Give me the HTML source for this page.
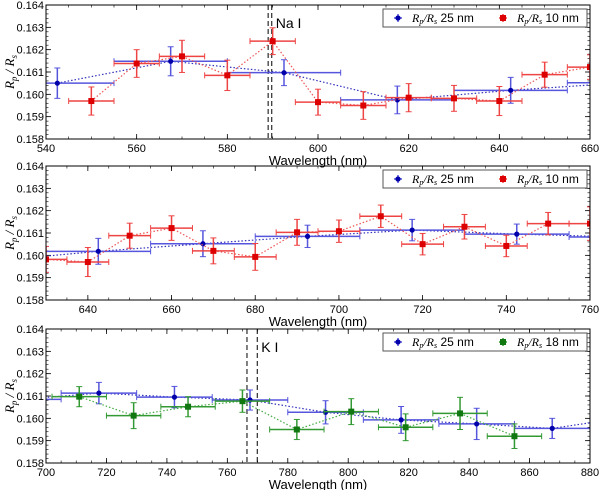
<!DOCTYPE html>
<html><head><meta charset="utf-8"><style>
html,body{margin:0;padding:0;background:#fff;}
svg{display:block;font-family:"Liberation Sans",sans-serif;}
</style></head><body>
<svg id="fig" width="600" height="490" viewBox="0 0 600 490" xmlns="http://www.w3.org/2000/svg"></svg>
<script>
// Panel 1 data (Na I region)
const p1BlueX = [542.5, 567.5, 592.5, 617.5, 642.5, 667.5];
const p1BlueY = [0.16050, 0.16148, 0.16097, 0.15975, 0.16018, 0.16052];
const p1BlueE = [0.00068, 0.00065, 0.00058, 0.00062, 0.00058, 0.00058];
const p1RedX = [550, 560, 570, 580, 590, 600, 610, 620, 630, 640, 650, 660];
const p1RedY = [0.15970, 0.16138, 0.16170, 0.16085, 0.16238, 0.15965, 0.15950, 0.15985, 0.15982, 0.15970, 0.16088, 0.16122];
const p1RedE = [0.00063, 0.00062, 0.00072, 0.00068, 0.00060, 0.00058, 0.00062, 0.00063, 0.00058, 0.00065, 0.00056, 0.00055];
// Panel 2 data
const p2BlueX = [617.5, 642.5, 667.5, 692.5, 717.5, 742.5, 767.5];
const p2BlueY = [0.15975, 0.16018, 0.16052, 0.16085, 0.16113, 0.16095, 0.16082];
const p2BlueE = [0.00062, 0.00058, 0.00058, 0.00050, 0.00048, 0.00045, 0.00045];
const p2RedX = [630, 640, 650, 660, 670, 680, 690, 700, 710, 720, 730, 740, 750, 760];
const p2RedY = [0.15982, 0.15970, 0.16088, 0.16122, 0.16020, 0.15993, 0.16103, 0.16108, 0.16175, 0.16050, 0.16128, 0.16042, 0.16142, 0.16142];
const p2RedE = [0.00058, 0.00065, 0.00056, 0.00055, 0.00058, 0.00060, 0.00058, 0.00050, 0.00050, 0.00048, 0.00055, 0.00048, 0.00050, 0.00075];
// Panel 3 data (K I region)
const p3BlueX = [692.5, 717.5, 742.5, 767.5, 792.5, 817.5, 842.5, 867.5, 892.5];
const p3BlueY = [0.16085, 0.16113, 0.16095, 0.16082, 0.16027, 0.15993, 0.15975, 0.15955, 0.16005];
const p3BlueE = [0.00050, 0.00048, 0.00048, 0.00045, 0.00052, 0.00060, 0.00070, 0.00045, 0.00050];
const p3GreenX = [711, 729, 747, 765, 783, 801, 819, 837, 855];
const p3GreenY = [0.16097, 0.16012, 0.16052, 0.16077, 0.15950, 0.16030, 0.15960, 0.16022, 0.15920];
const p3GreenE = [0.00045, 0.00058, 0.00045, 0.00050, 0.00045, 0.00058, 0.00060, 0.00072, 0.00055];
const yTicks = [0.158, 0.159, 0.160, 0.161, 0.162, 0.163, 0.164];
const p1XTicks = [540, 560, 580, 600, 620, 640, 660];
const p2XTicks = [640, 660, 680, 700, 720, 740, 760];
const p3XTicks = [700, 720, 740, 760, 780, 800, 820, 840, 860, 880];

const NS = "http://www.w3.org/2000/svg";
const fig = document.getElementById('fig');
function mk(tag, attrs, parent){const e=document.createElementNS(NS,tag);for(const k in attrs)e.setAttribute(k,attrs[k]);(parent||fig).appendChild(e);return e;}

const L=46,R=590,H=134;
const panels=[
 {top:5,x0:540,x1:660,xt:p1XTicks,minor:5,lines:[589.0,589.8],lineLabel:"Na I",
  series:[{x:p1BlueX,y:p1BlueY,e:p1BlueE,hw:12.5,c:"#0000aa",ec:"#5555dd",lc:"#3333bb",m:"circle",label:"25 nm",n:"blue-25nm"},
          {x:p1RedX,y:p1RedY,e:p1RedE,hw:5,c:"#dd0000",ec:"#ee4444",lc:"#ee5555",m:"square",label:"10 nm",n:"red-10nm"}]},
 {top:166,x0:630,x1:760,xt:p2XTicks,minor:5,lines:[],
  series:[{x:p2BlueX,y:p2BlueY,e:p2BlueE,hw:12.5,c:"#0000aa",ec:"#5555dd",lc:"#3333bb",m:"circle",label:"25 nm",n:"blue-25nm"},
          {x:p2RedX,y:p2RedY,e:p2RedE,hw:5,c:"#dd0000",ec:"#ee4444",lc:"#ee5555",m:"square",label:"10 nm",n:"red-10nm"}]},
 {top:329,x0:700,x1:880,xt:p3XTicks,minor:5,lines:[766.5,769.9],lineLabel:"K I",
  series:[{x:p3BlueX,y:p3BlueY,e:p3BlueE,hw:12.5,c:"#0000aa",ec:"#5555dd",lc:"#3333bb",m:"circle",label:"25 nm",n:"blue-25nm"},
          {x:p3GreenX,y:p3GreenY,e:p3GreenE,hw:9,c:"#117711",ec:"#339933",lc:"#44aa44",m:"square",label:"18 nm",n:"green-18nm"}]}
];

panels.forEach((p,pi)=>{
 const sx=v=>L+(v-p.x0)/(p.x1-p.x0)*(R-L);
 const sy=v=>p.top+H-(v-0.158)/0.006*H;
 const g=mk('g',{});
 
 
 const cid='clip'+pi;
 const cp=mk('clipPath',{id:cid},g);mk('rect',{x:L,y:p.top,width:R-L,height:H},cp);
 // ticks
 yTicks.forEach(t=>{
  const y=sy(t);
  mk('line',{x1:L,x2:L+5,y1:y,y2:y,stroke:'#000','stroke-width':0.8},g);
  mk('line',{x1:R,x2:R-5,y1:y,y2:y,stroke:'#000','stroke-width':0.8},g);
  const tx=mk('text',{x:L-2,y:y+4,'font-size':11,'text-anchor':'end'},g);tx.textContent=t.toFixed(3);
  
  
 });
 for(let v=0.158;v<0.164;v+=0.0002){const y=sy(v);mk('line',{x1:L,x2:L+2.5,y1:y,y2:y,stroke:'#000','stroke-width':0.6},g);mk('line',{x1:R,x2:R-2.5,y1:y,y2:y,stroke:'#000','stroke-width':0.6},g);}
 for(let v=Math.ceil(p.x0/p.minor)*p.minor;v<=p.x1;v+=p.minor){const x=sx(v);mk('line',{x1:x,x2:x,y1:p.top+H,y2:p.top+H-2.5,stroke:'#000','stroke-width':0.6},g);mk('line',{x1:x,x2:x,y1:p.top,y2:p.top+2.5,stroke:'#000','stroke-width':0.6},g);}
 p.xt.forEach(t=>{const x=sx(t);
  mk('line',{x1:x,x2:x,y1:p.top+H,y2:p.top+H-5,stroke:'#000','stroke-width':0.8},g);
  mk('line',{x1:x,x2:x,y1:p.top,y2:p.top+5,stroke:'#000','stroke-width':0.8},g);
  const tx=mk('text',{x:x,y:p.top+H+13,'font-size':11,'text-anchor':'middle'},g);tx.textContent=t;
  
  
 });
 const xl=mk('text',{x:(L+R)/2,y:p.top+H+26,'font-size':13,'text-anchor':'middle'},g);xl.textContent='Wavelength (nm)';
 
 
 const yl=mk('text',{x:0,y:0,'font-size':13,'font-family':'Liberation Serif,serif','font-style':'italic','text-anchor':'middle',transform:`translate(14,${p.top+H/2}) rotate(-90)`},g);
 yl.innerHTML='R<tspan font-size="9" dy="3">p</tspan><tspan dy="-3"> / R</tspan><tspan font-size="9" dy="3">s</tspan>';
 
 
 // vertical lines
 p.lines.forEach(v=>{const l=mk('line',{x1:sx(v),x2:sx(v),y1:p.top,y2:p.top+H,stroke:'#000','stroke-width':1,'stroke-dasharray':'5,3'},g);
  
  });
 if(p.lineLabel){const t=mk('text',{x:sx(p.lines[1])+4,y:p.top+23,'font-size':14},g);t.textContent=p.lineLabel;
  
  }
 const pg=mk('g',{'clip-path':`url(#${cid})`},g);
 p.series.forEach(s=>{
  const sg=mk('g',{},pg);
  
  
  mk('polyline',{points:s.x.map((x,i)=>sx(x)+','+sy(s.y[i])).join(' '),fill:'none',stroke:s.lc,'stroke-width':1.2,'stroke-dasharray':'1.5,2'},sg);
  s.x.forEach((x,i)=>{
   const cx=sx(x),cy=sy(s.y[i]),y1=sy(s.y[i]+s.e[i]),y2=sy(s.y[i]-s.e[i]),xa=sx(x-s.hw),xb=sx(x+s.hw);
   mk('line',{x1:xa,x2:xb,y1:cy,y2:cy,stroke:s.ec,'stroke-width':1.5},sg);
   mk('line',{x1:cx,x2:cx,y1:y1,y2:y2,stroke:s.ec,'stroke-width':1.5},sg);
   [y1,y2].forEach(yy=>mk('line',{x1:cx-3,x2:cx+3,y1:yy,y2:yy,stroke:s.ec,'stroke-width':1},sg));
   [xa,xb].forEach(xx=>mk('line',{x1:xx,x2:xx,y1:cy-3,y2:cy+3,stroke:s.ec,'stroke-width':1},sg));
   let m;
   if(s.m==='circle') m=mk('circle',{cx:cx,cy:cy,r:2.6,fill:s.c},sg);
   else m=mk('rect',{x:cx-3,y:cy-3,width:6,height:6,fill:s.c},sg);
   
   
  });
 });
 mk('rect',{x:L,y:p.top,width:R-L,height:H,fill:'none',stroke:'#000','stroke-width':1},g);
 // legend
 const lg=mk('g',{},g);
 
 
 mk('rect',{x:383,y:p.top+4,width:204,height:18,fill:'#fff',stroke:'#555','stroke-width':1},lg);
 p.series.forEach((s,k)=>{
  const bx=k===0?398:503, by=p.top+13;
  mk('line',{x1:bx-4,x2:bx+4,y1:by,y2:by,stroke:s.ec,'stroke-width':1.5},lg);
  mk('line',{x1:bx,x2:bx,y1:by-4,y2:by+4,stroke:s.ec,'stroke-width':1.5},lg);
  if(s.m==='circle') mk('circle',{cx:bx,cy:by,r:2.6,fill:s.c},lg); else mk('rect',{x:bx-3,y:by-3,width:6,height:6,fill:s.c},lg);
  const t=mk('text',{x:bx+14,y:by+4,'font-size':12},lg);
  t.innerHTML='<tspan font-family="Liberation Serif,serif" font-style="italic">R<tspan font-size="8" dy="2">p</tspan><tspan dy="-2">/R</tspan><tspan font-size="8" dy="2">s</tspan></tspan><tspan dy="-2"> '+s.label+'</tspan>';
  
  
 });
});
</script>
</body></html>
